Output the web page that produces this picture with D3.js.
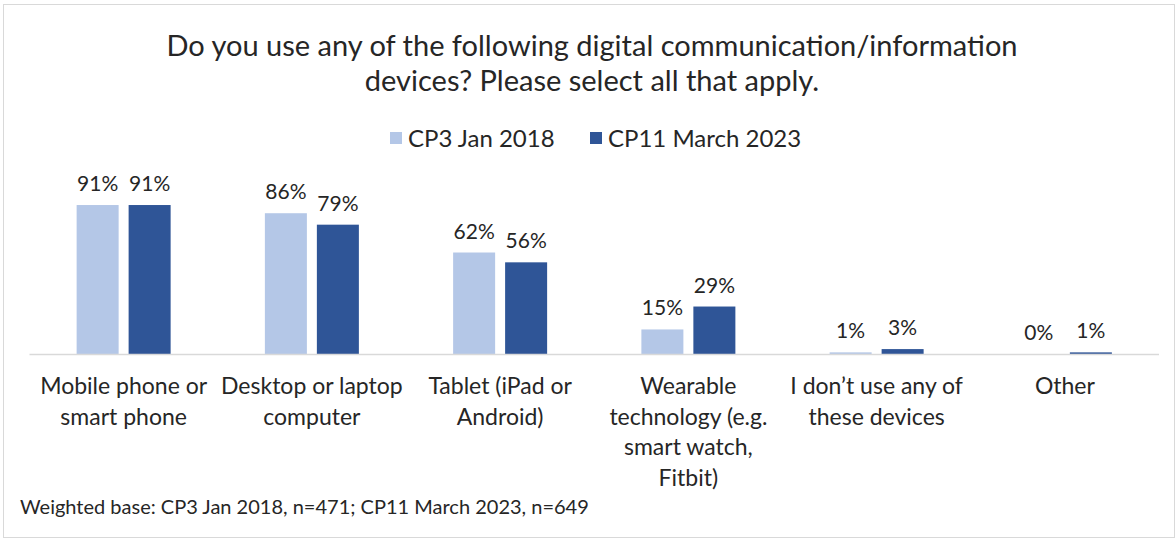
<!DOCTYPE html>
<html>
<head>
<meta charset="utf-8">
<script src="https://cdn.jsdelivr.net/npm/d3@7"></script>
<style>
  body { margin: 0; background: #fff; }
  svg { display: block; }
  text { font-family: Lato, "Open Sans", sans-serif; fill: #262626; }
</style>
</head>
<body>
<div class="container"></div>
<script>
let categories = [
  ['Mobile phone or', 'smart phone'],
  ['Desktop or laptop', 'computer'],
  ['Tablet (iPad or', 'Android)'],
  ['Wearable', 'technology (e.g.', 'smart watch,', 'Fitbit)'],
  ['I don\u2019t use any of', 'these devices'],
  ['Other']
];
let seriesNames = ['CP3 Jan 2018', 'CP11 March 2023'];
let jan2018 = [91, 86, 62, 15, 1, 0];
let mar2023 = [91, 79, 56, 29, 3, 1];
let colors = ['#b4c7e7', '#2f5597'];

let W = 1176, H = 540;
let baseY = 354;
let plotLeft = 29.5, plotRight = 1159;

let svg = d3.select('.container').append('svg')
  .attr('width', W).attr('height', H);

svg.append('rect')
  .attr('x', 3.5).attr('y', 4.5)
  .attr('width', W - 5).attr('height', H - 7)
  .attr('fill', '#fff').attr('stroke', '#d9d9d9');

// title
let title = svg.append('text')
  .attr('text-anchor', 'middle')
  .style('font-size', '29px');
title.append('tspan').attr('x', 592).attr('y', 56)
  .text('Do you use any of the following digital communication/information');
title.append('tspan').attr('x', 592).attr('y', 91)
  .text('devices? Please select all that apply.');

// legend
let legendX = [390, 590];
seriesNames.forEach((name, i) => {
  svg.append('rect')
    .attr('x', legendX[i]).attr('y', 132)
    .attr('width', 12).attr('height', 12)
    .attr('fill', colors[i]);
  svg.append('text')
    .attr('x', legendX[i] + 18).attr('y', 147)
    .style('font-size', '24px')
    .text(name);
});

let x0 = d3.scaleBand()
  .domain(d3.range(categories.length))
  .range([plotLeft, plotRight]);

let x1 = d3.scaleBand()
  .domain([0, 1])
  .range([x0.bandwidth() / 2 - 47, x0.bandwidth() / 2 + 47])
  .paddingInner(0.192);

let y = d3.scaleLinear().domain([0, 100]).range([baseY, baseY - 163.7]);

let rows = [];
categories.forEach((c, i) => {
  rows.push({ cat: i, s: 0, v: jan2018[i] });
  rows.push({ cat: i, s: 1, v: mar2023[i] });
});

let g = svg.append('g');

g.selectAll('.bar')
  .data(rows)
  .enter()
  .append('rect')
  .attr('class', 'bar')
  .attr('x', (d) => x0(d.cat) + x1(d.s))
  .attr('y', (d) => y(d.v))
  .attr('width', x1.bandwidth())
  .attr('height', (d) => baseY - y(d.v))
  .attr('fill', (d) => colors[d.s]);

g.selectAll('.lbl')
  .data(rows)
  .enter()
  .append('text')
  .attr('class', 'lbl')
  .attr('text-anchor', 'middle')
  .attr('x', (d) => x0(d.cat) + x1(d.s) + x1.bandwidth() / 2)
  .attr('y', (d) => y(d.v) - 14)
  .style('font-size', '21px')
  .text((d) => d.v + '%');

// axis line
svg.append('line')
  .attr('x1', plotLeft).attr('x2', plotRight)
  .attr('y1', baseY + 0.5).attr('y2', baseY + 0.5)
  .attr('stroke', '#d9d9d9').attr('stroke-width', 1.5);

// category labels
categories.forEach((lines, i) => {
  let t = svg.append('text')
    .attr('text-anchor', 'middle')
    .style('font-size', '23px');
  lines.forEach((ln, j) => {
    t.append('tspan')
      .attr('x', x0(i) + x0.bandwidth() / 2)
      .attr('y', 394 + j * 30.5)
      .text(ln);
  });
});

// footnote
svg.append('text')
  .attr('x', 20).attr('y', 514)
  .style('font-size', '20px')
  .text('Weighted base: CP3 Jan 2018, n=471; CP11 March 2023, n=649');
</script>
</body>
</html>
